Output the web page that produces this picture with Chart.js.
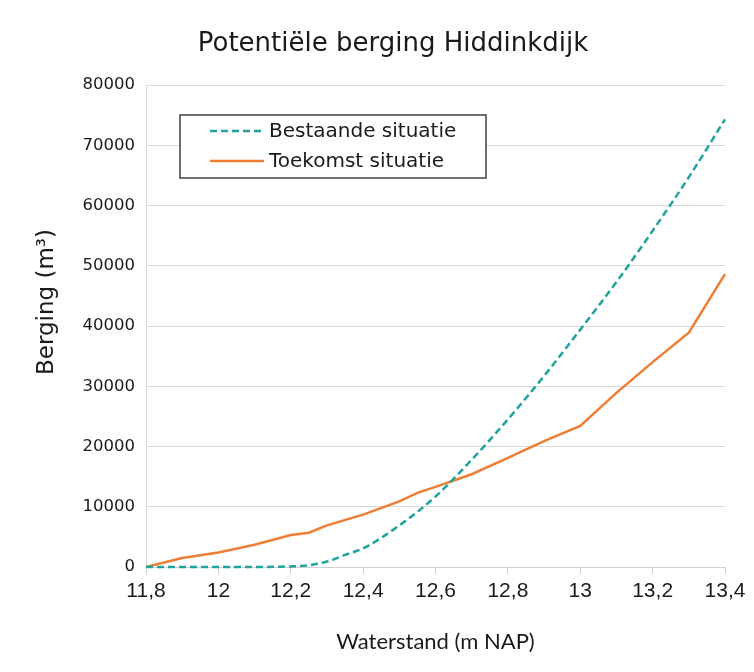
<!DOCTYPE html>
<html>
<head>
<meta charset="utf-8">
<script src="https://cdn.jsdelivr.net/npm/chart.js@4/dist/chart.umd.min.js"></script>
<style>
  html, body { margin: 0; padding: 0; background: #fff; }
  #wrap { width: 754px; height: 672px; position: relative; }
</style>
</head>
<body>
<div id="wrap"><canvas id="chart" width="754" height="672"></canvas></div>
<script>
// Chart data
const xTicks = [11.8, 12, 12.2, 12.4, 12.6, 12.8, 13, 13.2, 13.4];
const yTicks = [0, 10000, 20000, 30000, 40000, 50000, 60000, 70000, 80000];

const bestaandeX = [11.8, 11.9, 12, 12.1, 12.2, 12.25, 12.3, 12.35, 12.4, 12.5, 12.6, 12.7, 12.8, 12.9, 13, 13.1, 13.2, 13.3, 13.4];
const bestaandeY = [0, 0, 0, 0, 100, 300, 900, 2000, 3100, 6900, 11700, 17800, 24500, 31700, 39400, 47300, 55800, 64700, 74300];

const toekomstX = [11.8, 11.9, 12, 12.1, 12.2, 12.25, 12.3, 12.4, 12.5, 12.55, 12.6, 12.7, 12.8, 12.9, 13, 13.1, 13.2, 13.3, 13.4];
const toekomstY = [0, 1500, 2400, 3700, 5300, 5700, 6900, 8700, 10900, 12300, 13300, 15400, 18100, 20900, 23400, 28900, 34000, 38900, 48600];

const seriesLabels = ['Bestaande situatie', 'Toekomst situatie'];
const seriesColors = ['#1fa39b', '#ee7d35'];

const chartTitle = 'Potentiële berging Hiddinkdijk';
const yTitle = 'Berging (m³)';
const xTitle = 'Waterstand (m NAP)';

const toPoints = (xs, ys) => xs.map((x, i) => ({ x: x, y: ys[i] }));
const fmtComma = v => String(Math.round(v * 10) / 10).replace('.', ',');

const SANS = '"DejaVu Sans", "Liberation Sans", Arial, sans-serif';
const TEXT = '#1a1a1a';

// Title, y-axis title and a boxed legend inside the plot, drawn after the chart
const annotations = {
    id: 'annotations',
    afterDraw(chart) {
        const ctx = chart.ctx;
        ctx.save();

        // main title
        ctx.fillStyle = TEXT;
        ctx.font = '26px ' + SANS;
        ctx.textAlign = 'center';
        ctx.textBaseline = 'middle';
        ctx.fillText(chartTitle, 393, 44);

        // y-axis title
        ctx.save();
        ctx.translate(47, 302);
        ctx.rotate(-Math.PI / 2);
        ctx.font = '23px ' + SANS;
        ctx.fillText(yTitle, 0, 0);
        ctx.restore();

        // legend box
        const x0 = 180, y0 = 115, w = 306, h = 63;
        ctx.fillStyle = '#fff';
        ctx.fillRect(x0, y0, w, h);
        ctx.strokeStyle = '#404040';
        ctx.lineWidth = 1.5;
        ctx.strokeRect(x0, y0, w, h);
        ctx.font = '20px ' + SANS;
        ctx.textAlign = 'left';
        chart.data.datasets.forEach((ds, i) => {
            const yy = y0 + 16 + i * 30;
            ctx.beginPath();
            ctx.strokeStyle = ds.borderColor;
            ctx.lineWidth = 2.5;
            ctx.setLineDash(ds.borderDash || []);
            ctx.moveTo(210, yy);
            ctx.lineTo(264, yy);
            ctx.stroke();
            ctx.setLineDash([]);
            ctx.fillStyle = TEXT;
            ctx.fillText(ds.label, 269, yy + 1);
        });
        ctx.restore();
    }
};

const ctx = document.getElementById('chart').getContext('2d');
new Chart(ctx, {
    type: 'line',
    data: {
        datasets: [
            {
                label: seriesLabels[0],
                data: toPoints(bestaandeX, bestaandeY),
                borderColor: seriesColors[0],
                borderWidth: 2.5,
                borderDash: [7, 4],
                pointRadius: 0,
                cubicInterpolationMode: 'monotone',
                clip: 6,
                fill: false
            },
            {
                label: seriesLabels[1],
                data: toPoints(toekomstX, toekomstY),
                borderColor: seriesColors[1],
                borderWidth: 2.5,
                pointRadius: 0,
                tension: 0,
                clip: 6,
                fill: false
            }
        ]
    },
    options: {
        responsive: false,
        animation: false,
        layout: { padding: { top: 85, right: 29, bottom: 8, left: 8 } },
        plugins: {
            legend: { display: false },
            tooltip: { enabled: false },
            title: { display: false }
        },
        scales: {
            x: {
                type: 'linear',
                min: 11.8,
                max: 13.4,
                afterBuildTicks: axis => { axis.ticks = xTicks.map(v => ({ value: v })); },
                afterFit: axis => { axis.height = 97; },
                grid: { display: true, drawOnChartArea: false, drawTicks: true, tickLength: 7, color: '#d0d0d0' },
                border: { color: '#d0d0d0' },
                ticks: {
                    color: TEXT,
                    padding: 5,
                    maxRotation: 0,
                    font: { family: '"Liberation Sans", Arial, sans-serif', size: 21 },
                    callback: v => fmtComma(v)
                },
                title: {
                    display: true,
                    text: xTitle,
                    color: TEXT,
                    font: { family: 'Lato, "Open Sans", sans-serif', size: 22 },
                    padding: { top: 4, bottom: 9 }
                }
            },
            y: {
                min: 0,
                max: 80000,
                afterBuildTicks: axis => { axis.ticks = yTicks.map(v => ({ value: v })); },
                afterFit: axis => { axis.width = 138; },
                grid: { color: '#d9d9d9', drawTicks: false },
                border: { color: '#d9d9d9' },
                ticks: {
                    color: TEXT,
                    padding: 11,
                    font: { family: SANS, size: 16.5 },
                    callback: v => String(v)
                },
                title: { display: false }
            }
        }
    },
    plugins: [annotations]
});
</script>
</body>
</html>
